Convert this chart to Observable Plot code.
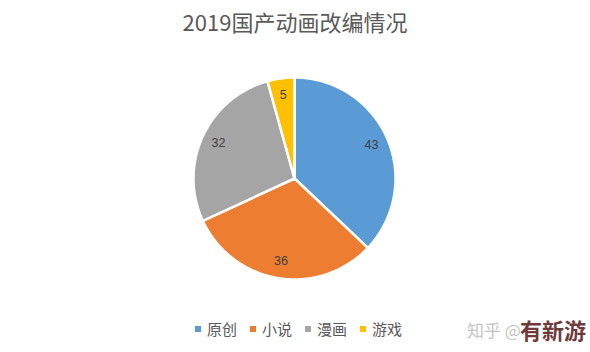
<!DOCTYPE html>
<html><head><meta charset="utf-8">
<script src="https://cdn.jsdelivr.net/npm/d3@7"></script>
<script src="https://cdn.jsdelivr.net/npm/@observablehq/plot@0.6"></script>
<style>
body{margin:0;background:#fff;font-family:"Noto Sans CJK SC","Noto Sans",sans-serif;}
#wrap{position:relative;width:590px;height:352px;overflow:hidden;background:#fff;}
#title{position:absolute;left:0;width:590px;top:5px;text-align:center;font-size:22px;color:#595959;}
#chart{position:absolute;left:0;top:0;}
#legend{position:absolute;top:318px;left:195px;font-size:15px;color:#595959;display:flex;gap:0;}
.item{display:flex;align-items:center;margin-right:13px;}
.sw{width:6px;height:6px;margin-right:6px;}
#wm1{position:absolute;left:467px;top:317px;font-size:17px;color:#c4c4c4;}
#wm2{position:absolute;left:520px;top:313px;font-size:22px;font-weight:bold;color:#6e3a3a;}
</style></head>
<body><div id="wrap">
<div id="chart"></div>
<div id="title">2019国产动画改编情况</div>
<div id="legend"></div>
<div id="wm1">知乎 @</div>
<div id="wm2">有新游</div>
</div>
<script>
const categories = ["原创", "小说", "漫画", "游戏"];
const values = [43, 36, 32, 5];
const colors = ["#5B9BD5", "#ED7D31", "#A5A5A5", "#FFC000"];

const arcs = d3.pie().sort(null)(values);
const slices = [];
const labels = [];
arcs.forEach((a, i) => {
  const n = Math.max(2, Math.ceil((a.endAngle - a.startAngle) / 0.02));
  slices.push({cat: categories[i], x: 0, y: 0});
  for (let k = 0; k <= n; k++) {
    const t = a.startAngle + (a.endAngle - a.startAngle) * k / n;
    slices.push({cat: categories[i], x: Math.sin(t), y: Math.cos(t)});
  }
  slices.push({cat: categories[i], x: 0, y: 0});
  const m = (a.startAngle + a.endAngle) / 2;
  labels.push({cat: categories[i], v: values[i], x: 0.83 * Math.sin(m), y: 0.83 * Math.cos(m)});
});

const plot = Plot.plot({
  width: 590, height: 352,
  margin: 0,
  x: {domain: [-1, 1], range: [193, 395], axis: null},
  y: {domain: [-1, 1], range: [279, 77], axis: null},
  color: {domain: categories, range: colors},
  style: {background: "transparent"},
  marks: [
    Plot.line(slices, {x: "x", y: "y", z: "cat", fill: "cat", stroke: "#fff", strokeWidth: 2.5, strokeLinejoin: "round", curve: "linear-closed"}),
    Plot.text(labels, {x: "x", y: "y", text: "v", fill: "#404040", fontSize: 12.5, fontFamily: "Liberation Sans, Arial, sans-serif"})
  ]
});
document.getElementById("chart").appendChild(plot);

const leg = document.getElementById("legend");
categories.forEach((c, i) => {
  const it = document.createElement("div"); it.className = "item";
  const sw = document.createElement("div"); sw.className = "sw"; sw.style.background = colors[i];
  const tx = document.createElement("span"); tx.textContent = c;
  it.appendChild(sw); it.appendChild(tx); leg.appendChild(it);
});
</script>
</body></html>
